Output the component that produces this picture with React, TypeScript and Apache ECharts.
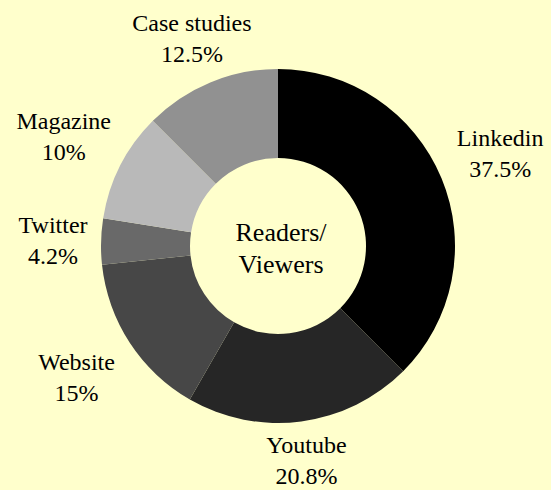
import React, { useEffect, useRef } from "react";
import * as echarts from "echarts";

const categories = ["Linkedin", "Youtube", "Website", "Twitter", "Magazine", "Case studies"];
const values = [37.5, 20.8, 15, 4.2, 10, 12.5];
const colors = ["#000000", "#262626", "#474747", "#696969", "#b9b9b9", "#919191"];
const centerLines = ["Readers/", "Viewers"];

// layout: which ring each label sits on (closer rings hug the donut)
const labelRing = ["far", "close", "far", "near", "far", "near"];
const ringRadius: Record<string, [number, number]> = {
  close: [188, 238],
  near: [197, 247],
  far: [212, 263],
};

const FONT = "'Liberation Serif', 'Times New Roman', serif";
const CENTER = [278, 246];

export default function App() {
  const ref = useRef<HTMLDivElement>(null);
  useEffect(() => {
    if (!ref.current) return;
    const chart = echarts.init(ref.current, undefined, { renderer: "svg" });
    const data = categories.map((name, i) => ({
      name,
      value: values[i],
      itemStyle: { color: colors[i] },
    }));
    const labelSeries = Object.keys(ringRadius).map((ring) => ({
      type: "pie",
      center: CENTER,
      radius: ringRadius[ring],
      startAngle: 90,
      clockwise: true,
      silent: true,
      itemStyle: { color: "rgba(0,0,0,0)" },
      emphasis: { disabled: true },
      labelLine: { show: false },
      label: {
        show: true,
        position: "inside",
        formatter: "{b}\n{c}%",
        fontFamily: FONT,
        fontSize: 24,
        lineHeight: 31,
        color: "#000",
        align: "center",
      },
      data: categories.map((name, i) => ({
        name,
        value: values[i],
        itemStyle: { color: "rgba(0,0,0,0)" },
        label: { show: labelRing[i] === ring },
      })),
    }));
    chart.setOption({
      animation: false,
      backgroundColor: "#FFFFCC",
      series: [
        {
          type: "pie",
          center: CENTER,
          radius: [88, 177],
          startAngle: 90,
          clockwise: true,
          silent: true,
          label: { show: false },
          labelLine: { show: false },
          emphasis: { disabled: true },
          data,
        },
        ...labelSeries,
      ],
      graphic: [
        {
          type: "text",
          x: 281,
          y: 248,
          silent: true,
          style: {
            text: centerLines.join("\n"),
            fontFamily: FONT,
            fontSize: 26,
            lineHeight: 32,
            fill: "#000",
            align: "center",
            verticalAlign: "middle",
          },
        },
      ],
    });
    return () => chart.dispose();
  }, []);
  return (
    <div
      ref={ref}
      style={{ position: "fixed", left: 0, top: 0, width: 551, height: 490 }}
    />
  );
}
